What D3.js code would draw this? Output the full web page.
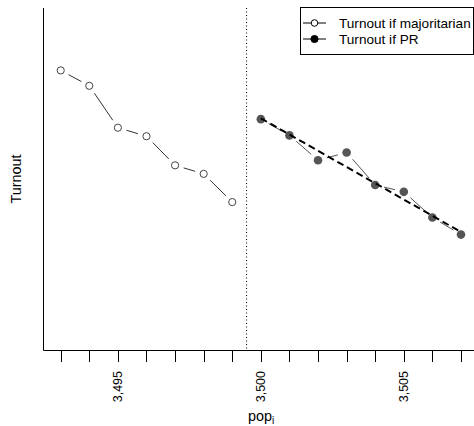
<!DOCTYPE html>
<html>
<head>
<meta charset="utf-8">
<script src="https://cdn.jsdelivr.net/npm/d3@7"></script>
<style>
  body { margin: 0; background: #fff; }
  text { font-family: "Liberation Sans", Arial, sans-serif; }
</style>
</head>
<body>
<div id="chart"></div>
<script>
// data
const popMaj = [3493, 3494, 3495, 3496, 3497, 3498, 3499];
const turnoutMaj = [0.727, 0.709, 0.660, 0.650, 0.616, 0.606, 0.573];
const popPR = [3500, 3501, 3502, 3503, 3504, 3505, 3506, 3507];
const turnoutPR = [0.670, 0.651, 0.622, 0.631, 0.593, 0.585, 0.555, 0.535];
const fitX = [3500, 3507];
const fitY = [0.671, 0.538];
const cutoff = 3499.5;
const tickVals = d3.range(3493, 3508);
const labelVals = [3495, 3500, 3505];
const legendLabels = ["Turnout if majoritarian", "Turnout if PR"];

const W = 474, H = 426;
const svg = d3.select("#chart").append("svg")
    .attr("width", W)
    .attr("height", H);

// scales (R style 4% padding on x)
var x = d3.scaleLinear()
    .domain([3492.44, 3507.56])
    .range([44.7, 477]);
var y = d3.scaleLinear()
    .domain([0.40, 0.80])
    .range([350, 8]);

// L shaped box
svg.append("path")
    .attr("d", "M43.5,8 L43.5,350.5 L474,350.5")
    .attr("fill", "none")
    .attr("stroke", "#000")
    .attr("stroke-width", 1);

// x axis ticks
var fmt = d3.format(",");
svg.append("g").selectAll("line")
    .data(tickVals)
    .enter().append("line")
    .attr("x1", d => Math.round(x(d)) + 0.5)
    .attr("x2", d => Math.round(x(d)) + 0.5)
    .attr("y1", 350.5)
    .attr("y2", 362)
    .attr("stroke", "#000");

svg.append("g").selectAll("text")
    .data(labelVals)
    .enter().append("text")
    .attr("transform", d => "translate(" + (x(d) + 0.5) + ",371) rotate(-90)")
    .attr("text-anchor", "end")
    .attr("dominant-baseline", "middle")
    .style("font-size", "12.5px")
    .text(d => fmt(d));

// axis titles
svg.append("text")
    .attr("transform", "translate(21,179) rotate(-90)")
    .attr("text-anchor", "middle")
    .style("font-size", "14.4px")
    .text("Turnout");

var xl = svg.append("text")
    .attr("x", 261)
    .attr("y", 421)
    .attr("text-anchor", "middle")
    .style("font-size", "14.4px");
xl.append("tspan").text("pop");
xl.append("tspan")
    .attr("dy", 3)
    .style("font-size", "10px")
    .text("i");

// cutoff line
svg.append("line")
    .attr("x1", x(cutoff))
    .attr("x2", x(cutoff))
    .attr("y1", 8)
    .attr("y2", 350)
    .attr("stroke", "#000")
    .attr("stroke-width", 1)
    .attr("stroke-dasharray", "1,2.5");

// R type="b" segments: leave a gap round each point
const segments = (xs, ys, gap) => {
    var out = [];
    for (var i = 0; i < xs.length - 1; i++) {
        var x0 = x(xs[i]), y0 = y(ys[i]), x1 = x(xs[i + 1]), y1 = y(ys[i + 1]);
        var len = Math.hypot(x1 - x0, y1 - y0);
        if (len <= 2 * gap) continue;
        var ux = (x1 - x0) / len, uy = (y1 - y0) / len;
        out.push({ x1: x0 + ux * gap, y1: y0 + uy * gap, x2: x1 - ux * gap, y2: y1 - uy * gap });
    }
    return out;
}

svg.append("g").selectAll("line")
    .data(segments(popMaj, turnoutMaj, 9))
    .enter().append("line")
    .attr("x1", d => d.x1).attr("y1", d => d.y1)
    .attr("x2", d => d.x2).attr("y2", d => d.y2)
    .attr("stroke", "#333")
    .attr("stroke-width", 1);

svg.append("g").selectAll("line")
    .data(segments(popPR, turnoutPR, 9))
    .enter().append("line")
    .attr("x1", d => d.x1).attr("y1", d => d.y1)
    .attr("x2", d => d.x2).attr("y2", d => d.y2)
    .attr("stroke", "#555")
    .attr("stroke-width", 1);

// points
svg.append("g").selectAll("circle")
    .data(popMaj.map((d, i) => [d, turnoutMaj[i]]))
    .enter().append("circle")
    .attr("cx", d => x(d[0]))
    .attr("cy", d => y(d[1]))
    .attr("r", 3.6)
    .attr("fill", "#fff")
    .attr("stroke", "#444")
    .attr("stroke-width", 1);

svg.append("g").selectAll("circle")
    .data(popPR.map((d, i) => [d, turnoutPR[i]]))
    .enter().append("circle")
    .attr("cx", d => x(d[0]))
    .attr("cy", d => y(d[1]))
    .attr("r", 4.3)
    .attr("fill", "#555");

// fitted line
svg.append("line")
    .attr("x1", x(fitX[0])).attr("y1", y(fitY[0]))
    .attr("x2", x(fitX[1])).attr("y2", y(fitY[1]))
    .attr("stroke", "#000")
    .attr("stroke-width", 2)
    .attr("stroke-dasharray", "7,4");

// legend
var lg = svg.append("g");
lg.append("rect")
    .attr("x", 300.5).attr("y", 7.5)
    .attr("width", 173).attr("height", 47)
    .attr("fill", "#fff")
    .attr("stroke", "#000");

legendLabels.forEach((t, i) => {
    var ly = 23 + i * 16;
    lg.append("line")
        .attr("x1", 303).attr("x2", 326)
        .attr("y1", ly).attr("y2", ly)
        .attr("stroke", "#000");
    lg.append("circle")
        .attr("cx", 314.5).attr("cy", ly)
        .attr("r", i == 0 ? 3.3 : 3.6)
        .attr("fill", i == 0 ? "#fff" : "#000")
        .attr("stroke", "#000");
    lg.append("text")
        .attr("x", 339).attr("y", ly)
        .attr("dominant-baseline", "central")
        .style("font-size", "13.6px")
        .text(t);
});
</script>
</body>
</html>
